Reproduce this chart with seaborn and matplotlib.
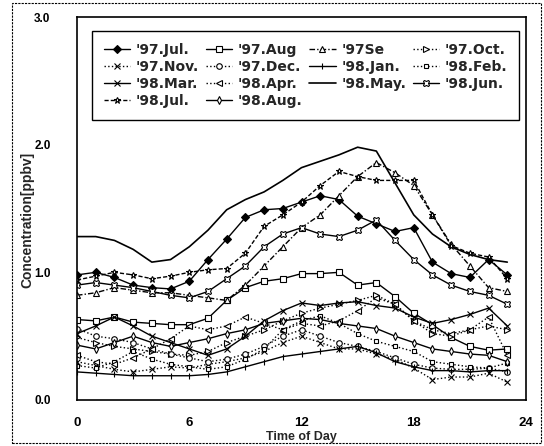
import numpy as np
import pandas as pd
import matplotlib
matplotlib.use("Agg")
import matplotlib.pyplot as plt
import seaborn as sns
from matplotlib.patches import Rectangle

hours = list(range(24))
labels = ["'97.Jul.", "'97.Aug", "'97Se", "'97.Oct.", "'97.Nov.", "'97.Dec.", "'98.Jan.",
          "'98.Feb.", "'98.Mar.", "'98.Apr.", "'98.May.", "'98.Jun.", "'98.Jul.", "'98.Aug."]

jul97 = [0.98, 1.00, 0.96, 0.90, 0.88, 0.87, 0.93, 1.10, 1.26, 1.43, 1.49, 1.50, 1.55, 1.60, 1.57, 1.44, 1.38, 1.32, 1.35, 1.08, 0.99, 0.96, 1.10, 0.98]
aug97 = [0.63, 0.62, 0.65, 0.61, 0.60, 0.59, 0.59, 0.64, 0.78, 0.88, 0.93, 0.95, 0.99, 0.99, 1.00, 0.90, 0.92, 0.81, 0.68, 0.59, 0.49, 0.42, 0.39, 0.40]
sep97 = [0.82, 0.84, 0.88, 0.86, 0.84, 0.84, 0.82, 0.80, 0.78, 0.90, 1.05, 1.20, 1.35, 1.45, 1.60, 1.75, 1.86, 1.78, 1.68, 1.45, 1.22, 1.05, 0.88, 0.85]
oct97 = [0.49, 0.45, 0.42, 0.40, 0.38, 0.36, 0.35, 0.38, 0.45, 0.50, 0.55, 0.62, 0.68, 0.72, 0.75, 0.78, 0.82, 0.75, 0.62, 0.52, 0.50, 0.55, 0.58, 0.55]
nov97 = [0.30, 0.27, 0.24, 0.22, 0.24, 0.26, 0.25, 0.28, 0.30, 0.33, 0.38, 0.45, 0.50, 0.45, 0.40, 0.40, 0.36, 0.32, 0.25, 0.16, 0.18, 0.18, 0.21, 0.14]
dec97 = [0.56, 0.50, 0.48, 0.45, 0.40, 0.36, 0.33, 0.30, 0.32, 0.36, 0.42, 0.50, 0.55, 0.50, 0.45, 0.42, 0.38, 0.33, 0.28, 0.25, 0.24, 0.24, 0.25, 0.22]
jan98 = [0.22, 0.21, 0.20, 0.19, 0.19, 0.19, 0.19, 0.20, 0.22, 0.26, 0.30, 0.34, 0.36, 0.38, 0.40, 0.42, 0.37, 0.30, 0.26, 0.23, 0.23, 0.22, 0.23, 0.23]
feb98 = [0.27, 0.25, 0.30, 0.38, 0.32, 0.28, 0.26, 0.24, 0.26, 0.32, 0.40, 0.55, 0.62, 0.66, 0.60, 0.52, 0.46, 0.42, 0.38, 0.30, 0.28, 0.26, 0.25, 0.29]
mar98 = [0.52, 0.58, 0.65, 0.58, 0.50, 0.45, 0.40, 0.35, 0.40, 0.50, 0.62, 0.70, 0.76, 0.74, 0.76, 0.77, 0.74, 0.72, 0.65, 0.60, 0.63, 0.67, 0.72, 0.58]
apr98 = [0.35, 0.30, 0.28, 0.33, 0.40, 0.48, 0.58, 0.55, 0.58, 0.65, 0.60, 0.55, 0.60, 0.58, 0.62, 0.70, 0.80, 0.75, 0.62, 0.55, 0.52, 0.55, 0.65, 0.35]
may98 = [1.28, 1.28, 1.25, 1.18, 1.08, 1.10, 1.20, 1.33, 1.49, 1.57, 1.63, 1.72, 1.82, 1.87, 1.92, 1.98, 1.95, 1.70, 1.45, 1.30, 1.20, 1.14, 1.10, 1.08]
jun98 = [0.90, 0.92, 0.90, 0.88, 0.85, 0.82, 0.80, 0.85, 0.95, 1.05, 1.20, 1.30, 1.35, 1.30, 1.28, 1.33, 1.41, 1.25, 1.10, 0.98, 0.90, 0.85, 0.82, 0.75]
jul98 = [0.94, 0.97, 1.00, 0.98, 0.95, 0.97, 1.00, 1.02, 1.03, 1.15, 1.36, 1.45, 1.55, 1.68, 1.79, 1.75, 1.72, 1.72, 1.72, 1.45, 1.21, 1.15, 1.12, 0.95]
aug98 = [0.43, 0.40, 0.45, 0.50, 0.45, 0.42, 0.45, 0.48, 0.52, 0.55, 0.60, 0.62, 0.64, 0.63, 0.60, 0.58, 0.56, 0.50, 0.45, 0.40, 0.38, 0.36, 0.35, 0.30]

series = [jul97, aug97, sep97, oct97, nov97, dec97, jan98, feb98, mar98, apr98, may98, jun98, jul98, aug98]

styles = [
    dict(marker='D', ls='-', mfc='k', ms=4),
    dict(marker='s', ls='-', mfc='white', ms=4),
    dict(marker='^', ls=(0, (4, 1.5, 1, 1.5)), mfc='white', ms=4),
    dict(marker='>', ls=':', mfc='white', ms=4),
    dict(marker='x', ls=':', mfc='white', ms=4),
    dict(marker='o', ls=':', mfc='white', ms=4),
    dict(marker='|', ls='-', mfc='white', ms=5),
    dict(marker='s', ls=':', mfc='white', ms=3.5),
    dict(marker='x', ls='-', mfc='white', ms=4.5),
    dict(marker='<', ls=':', mfc='white', ms=4),
    dict(marker=None, ls='-', mfc='white', ms=4),
    dict(marker='X', ls='-', mfc='white', ms=4.5),
    dict(marker='*', ls=(0, (3, 1.5)), mfc='white', ms=5),
    dict(marker='d', ls='-', mfc='white', ms=4),
]

sns.set_style("white")
plt.rcParams['font.family'] = ['Liberation Sans', 'DejaVu Sans']
plt.rcParams['font.weight'] = 'bold'

fig = plt.figure(figsize=(5.44, 4.46), dpi=100)
ax = fig.add_axes([77/544, 1-400/446, (526-77)/544, (400-17)/446])

for lab, vals, st in zip(labels, series, styles):
    sns.lineplot(x=hours, y=vals, ax=ax, color='k', linewidth=1.0 if st['marker'] else 1.2,
                 marker=st['marker'], linestyle=st['ls'], markerfacecolor=st['mfc'],
                 markeredgecolor='k', markersize=st['ms'], markeredgewidth=0.8, label=lab)

ax.set_xlim(0, 24)
ax.set_ylim(0, 3.0)
ax.set_xticks([0, 6, 12, 18, 24])
ax.set_yticks([0.0, 1.0, 2.0, 3.0])
ax.set_yticklabels(["0.0", "1.0", "2.0", "3.0"], fontsize=8.5, fontweight='bold')
ax.set_xticklabels(["0", "6", "12", "18", "24"], fontsize=9.5, fontweight='bold')
ax.tick_params(direction='in', length=4, width=1, colors='k')
ax.tick_params(axis='y', pad=19)
ax.tick_params(axis='x', pad=12)
for sp in ax.spines.values():
    sp.set_color('k')
    sp.set_linewidth(1.2)
ax.set_xlabel("Time of Day", fontsize=9, fontweight='bold', labelpad=2)
ax.set_ylabel("Concentration[ppbv]", fontsize=10, fontweight='bold')
ax.yaxis.set_label_coords(-0.095, 0.47)

handles, labs = ax.get_legend_handles_labels()
order = [0, 4, 8, 12, 1, 5, 9, 13, 2, 6, 10, 3, 7, 11]
leg = ax.legend([handles[i] for i in order], [labs[i] for i in order],
                loc='upper left', bbox_to_anchor=(0.033, 0.963, 0.952, 0.0), mode='expand',
                ncol=4, frameon=True, fancybox=False, edgecolor='k',
                prop=dict(family='DejaVu Sans', weight='bold', size=10),
                framealpha=1, borderaxespad=0, handlelength=1.9, handletextpad=0.4,
                columnspacing=0.4, labelspacing=0.22, borderpad=0.85)
leg.get_frame().set_linewidth(1.0)

fig.patches.append(Rectangle((12/544, 3/446), (541-12)/544, (443-3)/446, transform=fig.transFigure,
                             fill=False, edgecolor='k', linestyle=(0, (2, 1)), linewidth=0.8))

fig.savefig("out.png", dpi=100)
